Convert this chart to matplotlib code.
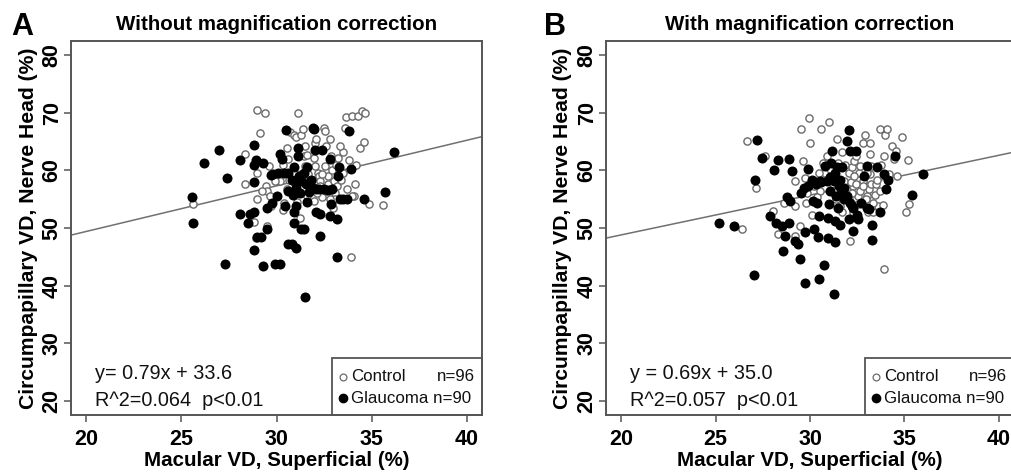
import matplotlib
matplotlib.use("Agg")
import matplotlib.pyplot as plt
import numpy as np
from matplotlib.patches import Rectangle

plt.rcParams['font.family'] = ['Liberation Sans', 'DejaVu Sans']

# ---------------- Panel A data (without magnification correction) ----------------
a_glau_x = [25.55, 25.6, 26.2, 27.0, 27.3, 27.4, 28.1, 28.1, 28.5, 28.6, 28.8, 28.8, 28.8, 28.8, 28.8,
            28.9, 29.0, 29.2, 29.3, 29.3, 29.5, 29.5, 29.7, 29.8, 29.75, 29.9, 30.2, 30.05, 30.1, 30.2,
            30.3, 30.4, 30.45, 30.5, 30.6, 30.6, 30.6, 30.8, 30.8, 30.85, 30.9, 30.9, 30.9, 31.0, 31.0,
            31.05, 31.15, 31.15, 31.2, 31.25, 31.3, 31.45, 31.3, 31.45, 31.5, 31.55, 31.6, 31.6, 31.7, 31.8,
            31.9, 31.95, 32.0, 32.05, 32.05, 32.25, 32.3, 32.3, 32.4, 32.5, 32.7, 32.8, 32.8, 32.85, 32.9,
            33.2, 33.2, 33.25, 33.3, 33.35, 33.5, 33.7, 33.8, 33.9, 34.6, 35.7, 36.2, 31.65, 31.9, 31.0]
a_glau_y = [55.4, 50.9, 61.3, 63.5, 43.8, 58.6, 61.7, 52.4, 50.8, 52.5, 64.3, 60.9, 57.9, 46.2, 52.8,
            61.8, 48.5, 48.5, 43.4, 61.2, 49.8, 53.5, 59.2, 59.3, 54.3, 43.7, 43.7, 55.5, 59.6, 62.9,
            62.0, 59.6, 53.8, 67.0, 59.6, 47.3, 56.4, 47.2, 58.4, 55.7, 52.8, 50.8, 60.5, 46.6, 57.6,
            53.8, 63.8, 62.5, 59.0, 56.1, 49.9, 49.9, 58.2, 59.6, 38.0, 57.6, 60.5, 54.5, 56.2, 58.4,
            67.4, 67.1, 63.6, 56.8, 52.8, 56.7, 52.4, 48.7, 63.5, 56.7, 56.6, 52.1, 61.9, 54.1, 56.7,
            51.5, 45.0, 59.0, 60.6, 55.0, 55.1, 55.0, 66.8, 60.3, 55.0, 56.2, 63.2, 57.6, 57.0, 57.0]

a_ctrl_x = [25.6, 28.35, 28.35, 28.8, 28.9, 29.0, 29.0, 28.95, 29.15, 29.4, 29.45, 29.5, 29.5, 29.6, 29.7,
            30.2, 30.35, 30.55, 30.7, 30.9, 31.15, 31.05, 31.1, 31.25, 31.3, 31.4, 31.45, 31.5, 31.6, 31.65,
            31.85, 31.95, 32.0, 32.1, 32.2, 32.25, 32.3, 32.3, 32.4, 32.5, 32.55, 32.55, 32.6, 32.7, 32.7,
            32.8, 32.85, 32.9, 33.0, 33.1, 33.15, 33.2, 33.25, 33.4, 33.5, 33.6, 33.65, 33.7, 33.8, 33.9,
            33.95, 34.1, 34.2, 34.3, 34.4, 34.5, 34.6, 34.65, 34.85, 35.6, 33.05, 32.15, 31.85, 30.9, 30.65,
            30.35, 30.6, 29.9, 29.65, 32.0, 33.5, 34.05, 32.6, 31.6, 31.05, 30.55, 33.35, 31.95, 32.4, 31.3,
            32.95, 33.95, 30.4, 29.25, 32.8, 31.5]
a_ctrl_y = [54.1, 62.9, 57.6, 51.0, 48.2, 70.5, 59.6, 55.1, 66.5, 70.0, 57.3, 56.4, 50.3, 60.7, 53.8,
            58.2, 53.1, 63.9, 66.6, 66.1, 69.9, 65.7, 54.5, 51.8, 66.2, 67.1, 62.5, 60.8, 62.7, 59.3,
            58.4, 54.7, 64.8, 65.4, 59.6, 59.0, 58.2, 57.3, 55.3, 67.4, 66.8, 60.8, 64.2, 59.0, 57.6,
            65.4, 62.5, 60.1, 58.2, 56.1, 60.9, 57.3, 62.2, 58.4, 63.1, 67.4, 69.3, 56.7, 61.8, 44.9,
            69.4, 57.6, 60.9, 69.4, 63.9, 70.3, 64.9, 69.9, 54.1, 53.9, 55.0, 56.1, 57.0, 59.6, 58.4,
            61.0, 61.9, 58.2, 55.5, 60.8, 59.6, 55.5, 56.4, 55.5, 57.3, 56.7, 64.2, 62.2, 59.3, 59.3,
            53.5, 55.5, 54.3, 56.4, 55.0, 64.2]

# ---------------- Panel B data (with magnification correction) ----------------
b_glau_x = [25.2, 26.0, 27.05, 27.1, 27.2, 27.45, 27.9, 28.1, 28.3, 28.2, 28.5, 28.55, 28.7, 28.8, 28.9,
            28.9, 29.05, 28.95, 29.2, 29.35, 29.45, 29.5, 29.75, 29.7, 29.75, 29.9, 30.1, 30.15, 30.2, 30.3,
            30.35, 30.4, 30.5, 30.5, 30.55, 30.6, 30.75, 30.8, 30.95, 30.95, 31.0, 31.05, 31.1, 31.15, 31.25,
            31.3, 31.3, 31.3, 31.4, 31.45, 31.5, 31.55, 31.6, 31.65, 31.8, 31.95, 32.05, 32.05, 32.1, 32.1,
            32.3, 32.3, 32.45, 32.5, 32.55, 32.7, 32.85, 33.0, 33.0, 33.1, 33.3, 33.3, 33.55, 33.7, 33.9,
            34.0, 34.15, 34.5, 35.4, 36.0, 31.25, 31.6, 31.8, 31.05, 30.9, 31.95, 32.2, 31.7, 30.25, 29.9]
b_glau_y = [50.8, 50.3, 41.8, 58.4, 65.2, 62.2, 52.1, 60.1, 61.7, 50.8, 50.3, 46.0, 48.6, 55.3, 50.9,
            61.9, 59.9, 54.7, 47.7, 47.2, 44.7, 56.1, 40.5, 56.9, 49.3, 60.2, 58.4, 54.7, 49.8, 57.6,
            54.4, 48.4, 41.2, 52.1, 58.2, 57.9, 43.6, 60.8, 48.2, 51.8, 54.1, 56.4, 61.2, 63.4, 38.5,
            47.6, 51.2, 59.6, 55.5, 60.5, 53.5, 57.3, 50.6, 56.1, 55.0, 65.1, 66.9, 51.5, 63.4, 54.4,
            53.5, 49.5, 63.4, 52.2, 51.5, 54.4, 59.0, 53.5, 60.8, 53.3, 50.6, 48.0, 60.5, 52.8, 59.3,
            56.8, 58.4, 62.5, 55.8, 59.3, 58.2, 58.4, 57.0, 58.8, 58.2, 55.5, 53.8, 60.5, 58.0, 57.3]

b_ctrl_x = [26.4, 26.65, 27.15, 27.6, 28.05, 28.3, 28.6, 29.2, 29.2, 29.2, 29.45, 29.5, 29.65, 29.75, 29.8,
            29.95, 30.0, 30.1, 30.15, 30.6, 30.7, 30.8, 31.0, 31.2, 31.45, 31.5, 31.7, 31.8, 31.95, 32.05,
            32.1, 32.2, 32.3, 32.35, 32.45, 32.55, 32.6, 32.65, 32.8, 32.8, 32.9, 33.0, 33.05, 33.1, 33.15,
            33.2, 33.2, 33.25, 33.35, 33.45, 33.5, 33.6, 33.7, 33.75, 33.85, 33.9, 33.95, 34.05, 34.2, 34.35,
            34.45, 34.55, 34.85, 35.1, 35.2, 35.25, 30.55, 30.35, 31.25, 31.4, 31.6, 31.85, 32.15, 32.35, 32.45,
            32.65, 32.8, 33.0, 33.25, 33.55, 33.9, 32.05, 32.2, 30.9, 31.05, 31.7, 32.3, 30.45, 31.3, 33.7,
            34.6, 32.95, 32.55, 30.2, 29.85, 33.35]
b_ctrl_y = [49.8, 65.0, 57.0, 62.5, 52.9, 48.9, 54.4, 58.2, 53.8, 48.6, 50.3, 67.2, 61.6, 58.7, 54.4,
            69.0, 64.7, 52.2, 57.6, 67.1, 61.3, 59.6, 68.4, 57.6, 65.4, 61.3, 63.1, 58.2, 56.7, 59.6,
            47.7, 60.5, 57.3, 61.6, 62.5, 55.5, 59.6, 60.8, 58.2, 64.8, 66.1, 55.5, 52.7, 56.7, 64.8,
            59.3, 62.8, 57.6, 52.7, 55.8, 57.6, 53.8, 67.2, 61.0, 53.9, 42.9, 66.1, 67.2, 59.3, 64.2,
            61.9, 63.4, 65.8, 52.8, 61.8, 54.1, 56.4, 55.3, 56.1, 55.0, 53.8, 61.0, 57.9, 59.0, 57.6,
            56.4, 57.3, 59.6, 60.8, 58.4, 62.5, 55.0, 56.1, 62.5, 60.2, 52.7, 52.7, 59.6, 56.4, 56.4,
            59.0, 55.0, 54.1, 57.3, 56.1, 54.4]

# regression fits
fit_a = (0.79, 33.6)
fit_b = (0.69, 35.0)

titles = ["Without magnification correction", "With magnification correction"]
letters = ["A", "B"]
eq_lines = [["y= 0.79x + 33.6", "R^2=0.064  p<0.01"],
            ["y = 0.69x + 35.0", "R^2=0.057  p<0.01"]]
legend_labels = ["Control", "Glaucoma n=90"]
legend_n_ctrl = "n=96"
xticks = [20, 25, 30, 35, 40]
yticks = [20, 30, 40, 50, 60, 70, 80]

W, H = 1011, 473
fig = plt.figure(figsize=(W / 100, H / 100), dpi=100)

frame_col = "#555555"
ctrl_col = "#6a6a6a"

panels = [
    (a_glau_x, a_glau_y, a_ctrl_x, a_ctrl_y, fit_a, 71, 411),
    (b_glau_x, b_glau_y, b_ctrl_x, b_ctrl_y, fit_b, 606, 408),
]
letter_x = [22, 555]

for i, (gx, gy, cx, cy, fit, left_px, width_px) in enumerate(panels):
    ax = fig.add_axes([left_px / W, 1 - 415 / H, width_px / W, 374 / H])
    ax.set_xlim(19.2, 40.8)
    ax.set_ylim(17.6, 82.4)
    xs = np.array([19.2, 40.8])
    ax.plot(xs, fit[0] * xs + fit[1], color="#707070", lw=1.1, zorder=1)
    ax.scatter(cx, cy, s=27, facecolors="white", edgecolors=ctrl_col, linewidths=1.0, zorder=2)
    ax.scatter(gx, gy, s=52, color="black", linewidths=0, zorder=3)

    for sp in ax.spines.values():
        sp.set_color(frame_col)
        sp.set_linewidth(1.4)
    ax.set_xticks(xticks)
    ax.set_yticks(yticks)
    ax.tick_params(direction="out", length=5, width=1.1, color=frame_col, labelsize=15.5)
    ax.tick_params(axis="x", pad=5)
    ax.tick_params(axis="y", pad=1)
    for lab in ax.get_xticklabels():
        lab.set_fontweight("bold")
    for lab in ax.get_yticklabels():
        lab.set_fontweight("bold")
        lab.set_rotation(90)
        lab.set_va("center")
    ax.set_xlabel("Macular VD, Superficial (%)", fontsize=14.8, fontweight="bold", labelpad=1)
    ax.set_ylabel("Circumpapillary VD, Nerve Head (%)", fontsize=15.2, fontweight="bold", labelpad=3)
    ax.set_title(titles[i], fontsize=14.8, fontweight="bold", pad=8)

    # equation text
    ax.text(0.058, 0.112, eq_lines[i][0], transform=ax.transAxes, fontsize=14.3, va="center", ha="left", color="#111111")
    ax.text(0.058, 0.040, eq_lines[i][1], transform=ax.transAxes, fontsize=14.3, va="center", ha="left", color="#111111")

    # legend box
    ax.add_patch(Rectangle((0.635, 0.0), 0.365, 0.152, transform=ax.transAxes, fill=False,
                           edgecolor=frame_col, lw=1.3, zorder=4, clip_on=False))
    ax.scatter([0.662], [0.102], s=24, facecolors="white", edgecolors=ctrl_col, linewidths=0.9,
               transform=ax.transAxes, zorder=5, clip_on=False)
    ax.scatter([0.662], [0.045], s=36, color="black", transform=ax.transAxes, zorder=5, clip_on=False)
    ax.text(0.681, 0.102, legend_labels[0], transform=ax.transAxes, fontsize=12.2, va="center", ha="left", color="#111111")
    ax.text(0.681, 0.045, legend_labels[1], transform=ax.transAxes, fontsize=12.2, va="center", ha="left", color="#111111")
    ax.text(0.982, 0.102, legend_n_ctrl, transform=ax.transAxes, fontsize=12.2, va="center", ha="right", color="#111111")

    fig.text(letter_x[i] / W, 1 - 27 / H, letters[i], fontsize=22, fontweight="bold", ha="center", va="center")

fig.savefig("out.png", dpi=100)
